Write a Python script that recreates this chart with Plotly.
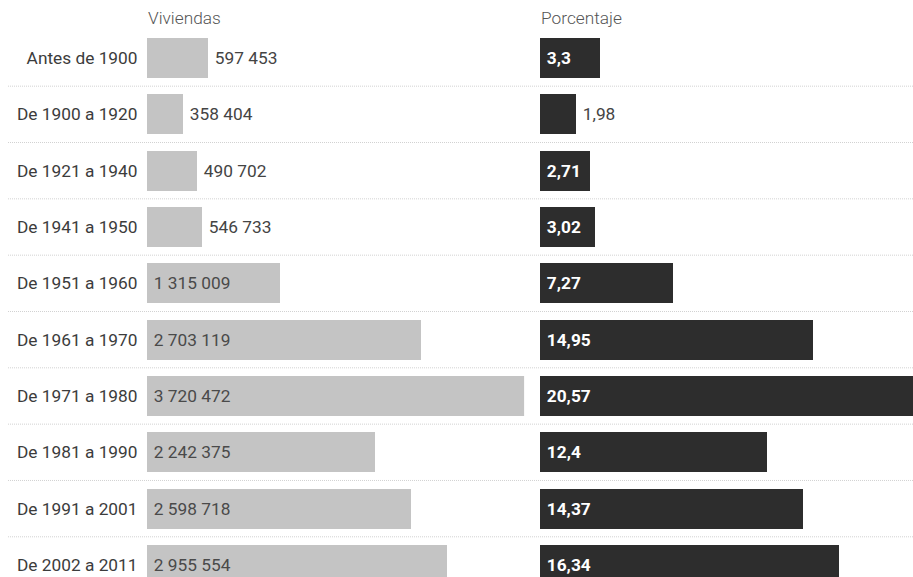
import plotly.graph_objects as go

categories = ["Antes de 1900", "De 1900 a 1920", "De 1921 a 1940", "De 1941 a 1950",
              "De 1951 a 1960", "De 1961 a 1970", "De 1971 a 1980", "De 1981 a 1990",
              "De 1991 a 2001", "De 2002 a 2011"]
viviendas = [597453, 358404, 490702, 546733, 1315009, 2703119, 3720472, 2242375, 2598718, 2955554]
porcentaje = [3.3, 1.98, 2.71, 3.02, 7.27, 14.95, 20.57, 12.4, 14.37, 16.34]
headers = ["Viviendas", "Porcentaje"]

W, H = 913, 577
FONT = "Roboto"
FS = 17.3
NB = "\u00a0"
idx = list(range(len(categories)))

viv_text = [NB + f"{v:,}".replace(",", " ") for v in viviendas]
por_text = [NB + str(v).replace(".", ",") for v in porcentaje]
viv_pos = ["inside" if v > 1_000_000 else "outside" for v in viviendas]
por_pos = ["inside" if v > 2.5 else "outside" for v in porcentaje]

fig = go.Figure()
fig.add_trace(go.Bar(
    y=idx, x=viviendas, orientation="h", xaxis="x", yaxis="y",
    marker=dict(color="#c4c4c4", line=dict(width=0)),
    width=0.71, text=viv_text, textposition=viv_pos, insidetextanchor="start",
    constraintext="none", cliponaxis=False,
    insidetextfont=dict(family=FONT, size=FS, color="#4a4a4a"),
    outsidetextfont=dict(family=FONT, size=FS, color="#444444"),
    hoverinfo="skip", showlegend=False,
))
fig.add_trace(go.Bar(
    y=idx, x=porcentaje, orientation="h", xaxis="x2", yaxis="y",
    marker=dict(color="#2d2d2d", line=dict(width=0)),
    width=0.71, text=por_text, textposition=por_pos, insidetextanchor="start",
    constraintext="none", cliponaxis=True,
    insidetextfont=dict(family=FONT, size=FS, color="#ffffff", weight="bold"),
    outsidetextfont=dict(family=FONT, size=FS, color="#444444"),
    hoverinfo="skip", showlegend=False,
))

pitch = 56.33
top_c = 58
y_top = -top_c / pitch
y_bot = (H - top_c) / pitch

shapes = []
for i in idx[:-1]:
    shapes.append(dict(type="line", xref="paper", yref="y", x0=8 / W, x1=1,
                       y0=i + 0.5, y1=i + 0.5,
                       line=dict(color="#d2d2d2", width=1, dash="1px,1px"),
                       layer="below"))

fig.update_layout(
    width=W, height=H, margin=dict(l=0, r=0, t=0, b=0),
    paper_bgcolor="white", plot_bgcolor="white",
    font=dict(family=FONT, size=FS, color="#3c3c3c"),
    bargap=0,
    xaxis=dict(domain=[146.5 / W, 524.1 / W], range=[0, max(viviendas)], visible=False, anchor="y"),
    xaxis2=dict(domain=[539.5 / W, 1], range=[0, 373.5 / 18.27], visible=False, anchor="y"),
    yaxis=dict(range=[y_bot, y_top], tickvals=idx, ticktext=categories, showgrid=False,
               zeroline=False, showline=False, ticks="", ticklabelstandoff=8,
               tickfont=dict(family=FONT, size=FS, color="#3c3c3c")),
    shapes=shapes,
    annotations=[
        dict(text=headers[0], x=146 / W, y=1 - 18 / H, xref="paper", yref="paper",
             xanchor="left", yanchor="middle", showarrow=False,
             font=dict(family=FONT, size=FS, color="#555555", weight=300)),
        dict(text=headers[1], x=539 / W, y=1 - 18 / H, xref="paper", yref="paper",
             xanchor="left", yanchor="middle", showarrow=False,
             font=dict(family=FONT, size=FS, color="#555555", weight=300)),
    ],
)

fig.write_html("out.html")
